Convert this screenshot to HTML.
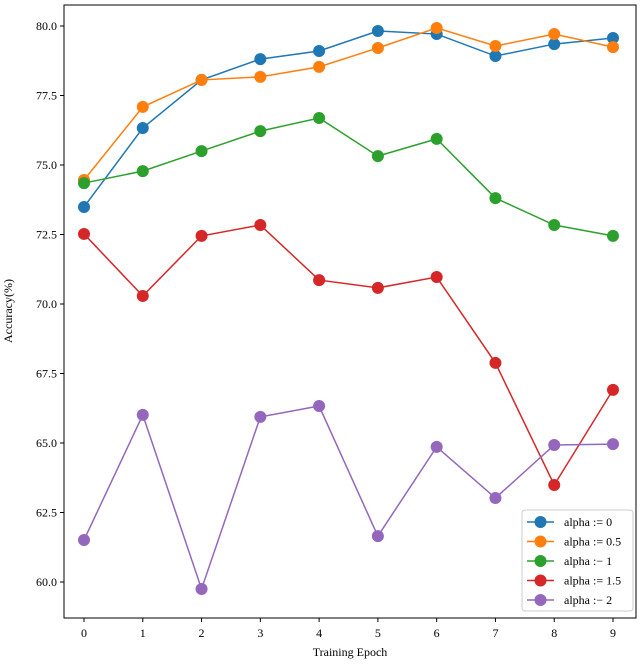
<!DOCTYPE html>
<html><head><meta charset="utf-8"><style>
body{margin:0;background:#fff}
svg{display:block;font-family:"Liberation Serif",serif}
</style></head><body>
<svg id="chart" width="640" height="664">
<rect x="64" y="5" width="572" height="613" fill="none" stroke="#000" stroke-width="1"/>
<g id="axes"></g><g id="series"></g><g id="legend"></g>
<text x="350" y="656" font-size="12" text-anchor="middle">Training Epoch</text>
<text x="12" y="311" font-size="12" text-anchor="middle" transform="rotate(-90 12 311)">Accuracy(%)</text>
</svg>
<script>
const epochs=[0,1,2,3,4,5,6,7,8,9];
const yTicks=[60,62.5,65,67.5,70,72.5,75,77.5,80];
const labels=["alpha := 0","alpha := 0.5","alpha :− 1","alpha := 1.5","alpha :− 2"];
const colors=["#1f77b4","#ff7f0e","#2ca02c","#d62728","#9467bd"];
const s0=[73.49,76.33,78.06,78.81,79.1,79.82,79.71,78.92,79.35,79.57];
const s1=[74.46,77.09,78.06,78.17,78.53,79.21,79.93,79.28,79.71,79.24];
const s2=[74.35,74.78,75.5,76.22,76.69,75.32,75.94,73.81,72.84,72.45];
const s3=[72.52,70.29,72.45,72.84,70.86,70.58,70.97,67.88,63.49,66.91];
const s4=[61.51,66.01,59.75,65.94,66.33,61.65,64.86,63.02,64.93,64.96];
const series=[s0,s1,s2,s3,s4];
const NS="http://www.w3.org/2000/svg";
const X=v=>84+v*(613-84)/9;
const Y=v=>582-(v-60)*(582-26)/20;
function mk(t,a,p){const e=document.createElementNS(NS,t);for(const k in a)e.setAttribute(k,a[k]);p.appendChild(e);return e;}
const ax=document.getElementById('axes');
epochs.forEach(e=>{
 const l=mk('line',{x1:X(e),x2:X(e),y1:618,y2:622,stroke:'#000'},ax);
 
 
 const t=mk('text',{x:X(e),y:637,'font-size':12,'text-anchor':'middle'},ax);t.textContent=e;
 
 
});
yTicks.forEach(v=>{
 const l=mk('line',{x1:60,x2:64,y1:Y(v),y2:Y(v),stroke:'#000'},ax);
 
 
 const t=mk('text',{x:57,y:Y(v)+4,'font-size':12,'text-anchor':'end'},ax);t.textContent=v.toFixed(1);
 
 
});
const sg=document.getElementById('series');
series.forEach((s,i)=>{
 const g=mk('g',{},sg);
 
 
 const p=mk('polyline',{points:s.map((v,j)=>X(epochs[j])+','+Y(v)).join(' '),fill:'none',stroke:colors[i],'stroke-width':1.5},g);
 
 
 s.forEach((v,j)=>{const c=mk('circle',{cx:X(epochs[j]),cy:Y(v),r:6,fill:colors[i]},g);
 
 });
});
const lg=document.getElementById('legend');


mk('rect',{x:522,y:510,width:111,height:101,rx:3,fill:'#fff',stroke:'#ccc'},lg);
labels.forEach((lab,i)=>{
 const y=522+i*19.5;
 const g=mk('g',{},lg);
 
 
 mk('line',{x1:527,x2:554,y1:y,y2:y,stroke:colors[i],'stroke-width':1.5},g);
 mk('circle',{cx:540.5,cy:y,r:6,fill:colors[i]},g);
 const t=mk('text',{x:564,y:y+4,'font-size':12},g);t.textContent=lab;
});
</script>
</body></html>
